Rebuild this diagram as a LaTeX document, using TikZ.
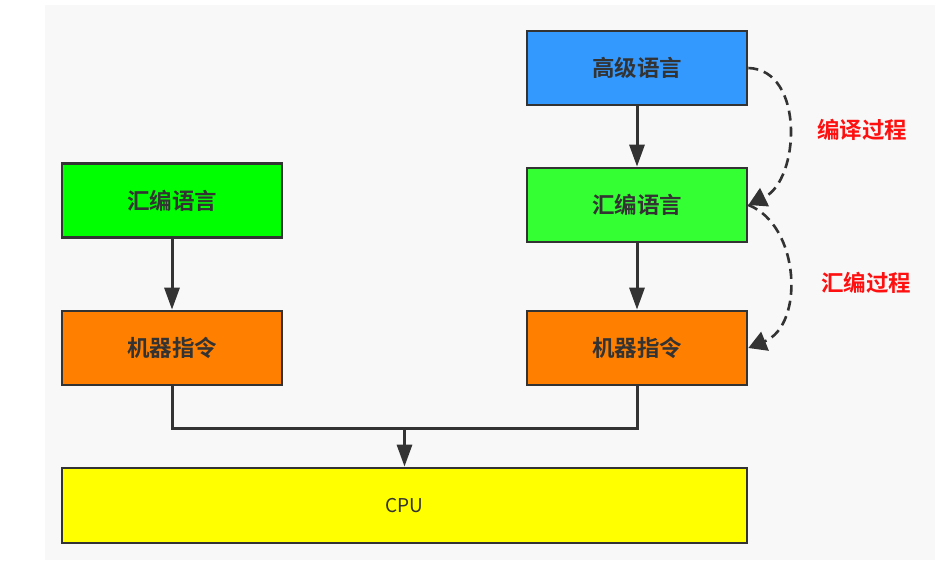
\documentclass[tikz,border=0pt]{standalone}
\usepackage{fontspec}
\newfontfamily\cjk{Noto Sans CJK SC}[BoldFont={Noto Sans CJK SC Bold}]
\usetikzlibrary{arrows.meta}
\definecolor{bgc}{HTML}{F8F8F8}
\definecolor{edge}{HTML}{333333}
\definecolor{blueb}{HTML}{3399FF}
\definecolor{greenr}{HTML}{33FF33}
\definecolor{greenl}{HTML}{00FF00}
\definecolor{orangeb}{HTML}{FF8000}
\definecolor{yellowb}{HTML}{FFFF00}
\definecolor{txt}{HTML}{333333}
\definecolor{redt}{HTML}{FF1010}
\begin{document}
\begin{tikzpicture}[x=1pt,y=-1pt,
  box/.style={draw=edge, line width=2.7pt, minimum width=220pt, minimum height=74pt, inner sep=0pt,
    font=\cjk\bfseries\fontsize{22.5}{26}\selectfont, text=txt},
  conn/.style={draw=edge, line width=3pt, -{Triangle[length=22pt,width=15pt]}},
  plain/.style={draw=edge, line width=3pt},
  dconn/.style={draw=edge, line width=2.6pt, dash pattern=on 10pt off 6pt, -{Triangle[length=18pt,width=20pt]}},
  lbl/.style={font=\cjk\bfseries\fontsize{22.5}{26}\selectfont, text=redt}]
\useasboundingbox (0,0) rectangle (948,564);
\fill[white] (0,0) rectangle (948,564);
\fill[bgc] (45,5) rectangle (935,560);
\node[box, fill=blueb] (hl) at (637,68) {高级语言};
\node[box, fill=greenr] (asmR) at (637,205) {汇编语言};
\node[box, fill=orangeb] (mcR) at (637,348) {机器指令};
\node[box, fill=greenl] (asmL) at (172,200.5) {汇编语言};
\node[box, fill=orangeb] (mcL) at (172,348) {机器指令};
\node[box, fill=yellowb, minimum width=685pt, minimum height=75pt, font=\cjk\fontsize{19}{22}\selectfont] (cpu) at (404.5,505.5) {CPU};
\node[lbl] (l1) at (862,130) {编译过程};
\node[lbl] (l2) at (866,283) {汇编过程};
\coordinate (j) at (404.5,428);
\draw[conn] (asmL) -- (mcL);
\draw[conn] (hl) -- (asmR);
\draw[conn] (asmR) -- (mcR);
\draw[plain] (mcL.south) -- (mcL.south |- j) -- (mcR.south |- j) -- (mcR.south);
\draw[conn] (j) -- (cpu.north);
\draw[dconn] (hl.east) .. controls (805,70) and (800,180) .. (asmR.east);
\draw[dconn] (asmR.east) .. controls (800,225) and (805,325) .. (mcR.east);
\end{tikzpicture}
\end{document}
